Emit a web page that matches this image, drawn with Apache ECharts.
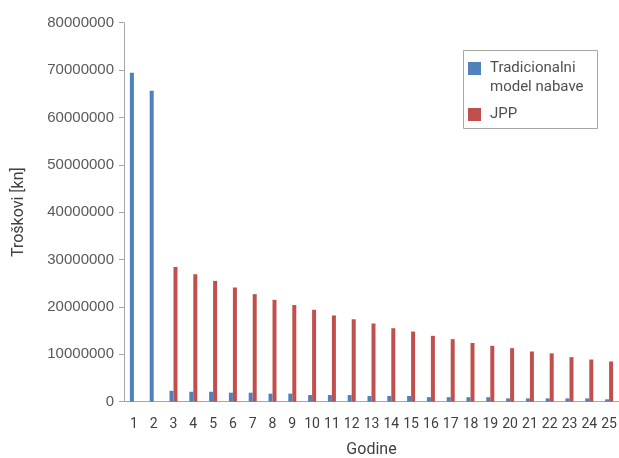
<!DOCTYPE html>
<html>
<head>
<meta charset="utf-8">
<script src="https://cdn.jsdelivr.net/npm/echarts@6/dist/echarts.min.js"></script>
<style>
html,body{margin:0;padding:0;background:#fff;}
#chart{width:619px;height:458px;}
</style>
</head>
<body>
<div id="chart"></div>
<script>
var years = ['1','2','3','4','5','6','7','8','9','10','11','12','13','14','15','16','17','18','19','20','21','22','23','24','25'];
var traditional = [69400000, 65600000, 2300000, 2100000, 2100000, 1900000, 1900000, 1700000, 1700000, 1400000, 1400000, 1400000, 1200000, 1200000, 1200000, 950000, 950000, 950000, 950000, 700000, 700000, 700000, 700000, 700000, 500000];
var jpp = [null, null, 28400000, 26900000, 25500000, 24100000, 22700000, 21500000, 20400000, 19400000, 18200000, 17400000, 16500000, 15500000, 14800000, 13900000, 13200000, 12400000, 11800000, 11300000, 10600000, 10200000, 9400000, 8900000, 8500000];
var yTicks = [0, 10000000, 20000000, 30000000, 40000000, 50000000, 60000000, 70000000, 80000000];
var seriesNames = ['Tradicionalni model nabave', 'JPP'];

var chart = echarts.init(document.getElementById('chart'));
chart.setOption({
  animation: false,
  color: ['#4f81bd', '#c0504d'],
  grid: { left: 124, right: 0, top: 22.6, bottom: 56.3, containLabel: false, outerBoundsMode: 'none' },
  legend: {
    orient: 'vertical',
    left: 468,
    top: 40,
    padding: 0,
    itemGap: 8,
    itemWidth: 13,
    itemHeight: 13,
    icon: 'rect',
    textStyle: { fontFamily: 'Roboto', fontSize: 15, color: '#505050', lineHeight: 19, padding: [0, 0, 0, 4] },
    formatter: function (n) { return n === seriesNames[0] ? '\nTradicionalni\nmodel nabave' : n; },
    data: seriesNames
  },
  graphic: [{
    type: 'rect',
    shape: { x: 463.5, y: 50.5, width: 134, height: 78 },
    style: { fill: 'none', stroke: '#a6a6a6', lineWidth: 1 },
    silent: true
  }],
  xAxis: {
    type: 'category',
    data: years,
    boundaryGap: true,
    name: 'Godine',
    nameLocation: 'middle',
    nameGap: 40,
    nameTextStyle: { fontFamily: 'Roboto', fontSize: 16, color: '#404040' },
    axisLine: { lineStyle: { color: '#a6a6a6', width: 1 } },
    axisTick: { show: false },
    axisLabel: { fontFamily: 'Roboto', fontSize: 14, color: '#404040', margin: 16, interval: 0 }
  },
  yAxis: {
    type: 'value',
    min: yTicks[0],
    max: yTicks[yTicks.length - 1],
    interval: yTicks[1] - yTicks[0],
    name: 'Troškovi [kn]',
    nameLocation: 'middle',
    nameGap: 97,
    nameTextStyle: { fontFamily: 'Roboto', fontSize: 16, color: '#404040' },
    axisLine: { show: true, lineStyle: { color: '#a6a6a6', width: 1 } },
    axisTick: { show: true, length: 5, inside: false, lineStyle: { color: '#a6a6a6' } },
    splitLine: { show: false },
    axisLabel: {
      fontFamily: 'Liberation Sans', fontSize: 15, color: '#595959', margin: 10,
      formatter: function (v) { return String(v); }
    }
  },
  series: [
    { name: seriesNames[0], type: 'bar', data: traditional, barWidth: 4, barGap: '0%' },
    { name: seriesNames[1], type: 'bar', data: jpp, barWidth: 4, barGap: '0%' }
  ]
});
</script>
</body>
</html>
